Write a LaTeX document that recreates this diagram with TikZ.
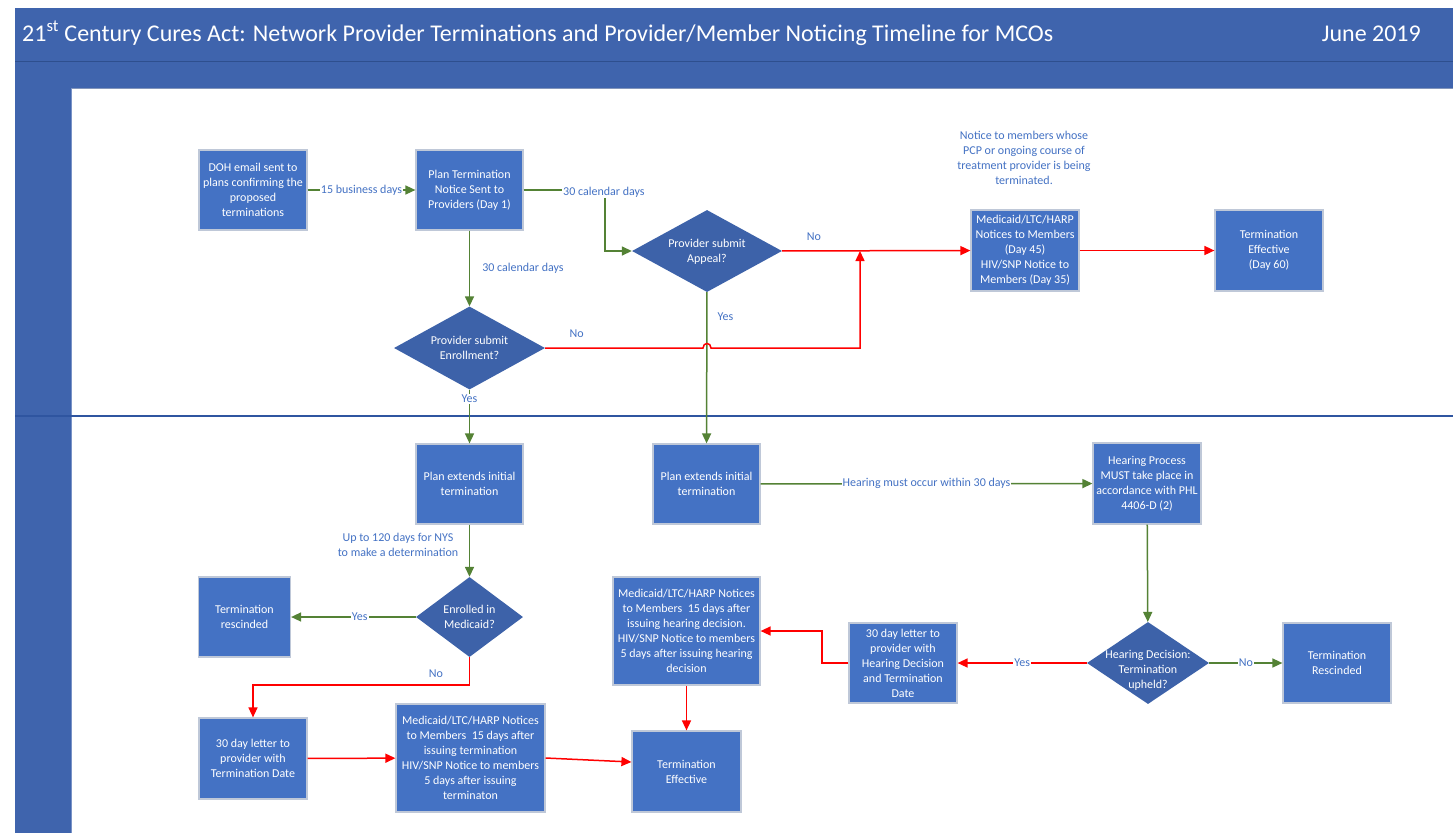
\documentclass[tikz,border=0pt]{standalone}
\usepackage{fontspec}
\setmainfont{Carlito}
\usetikzlibrary{shapes.geometric,arrows.meta,calc}
\definecolor{hdr}{HTML}{3F64AD}
\definecolor{hdrline}{HTML}{2E4F8E}
\definecolor{sepline}{HTML}{2F55A0}
\definecolor{boxblue}{HTML}{4472C4}
\definecolor{boxedge}{HTML}{BFC8D8}
\definecolor{dblue}{HTML}{3D62A9}
\definecolor{lbl}{HTML}{4472C4}
\definecolor{grn}{HTML}{548235}
\definecolor{rd}{HTML}{FF0000}
\newcommand\myNodeFont{\fontsize{12}{15}\selectfont}
\newcommand\myLabelFont{\fontsize{12}{15}\selectfont}
\newcommand\dtext[2][0pt]{\makebox[0pt]{\smash{\raisebox{\dimexpr-0.3em-#1\relax}{\begin{tabular}{@{}c@{}}#2\end{tabular}}}}}
\tikzset{
  box/.style={draw=boxedge, line width=1.2pt, fill=boxblue, text=white, align=center, font=\myNodeFont, inner sep=1pt},
  diam/.style={diamond, fill=dblue, inner sep=0pt, text=white, font=\myNodeFont},
  garrow/.style={draw=grn, line width=1.5pt, -{Triangle[length=10pt,width=9pt]}},
  rarrow/.style={draw=rd, line width=1.5pt, -{Triangle[length=10pt,width=9pt]}},
  lab/.style={text=lbl, font=\myLabelFont, inner sep=1pt},
  wlab/.style={lab, fill=white}
}
\begin{document}
\begin{tikzpicture}[x=1pt, y=-1pt]
\useasboundingbox (0,0) rectangle (1453,833);
\fill[white] (0,0) rectangle (1453,833);
% header bands
\fill[hdr] (15,8) rectangle (1453,88);
\draw[hdrline, line width=1pt] (15,61) -- (1453,61);
\draw[hdrline!60!white, line width=1pt] (71,88) -- (1453,88);
\fill[hdr] (15,88) rectangle (71,833);
\draw[hdr!70!white, line width=0.8pt] (71,88) -- (71,833);
\draw[sepline, line width=1.2pt] (15,416) -- (1453,416);
\node[anchor=base west, text=white, font=\fontsize{24}{28}\selectfont, inner sep=0pt] (title) at (22,41)
  {21\textsuperscript{st} Century Cures Act: Network Provider Terminations and Provider/Member Noticing Timeline for MCOs};
\node[anchor=base east, text=white, font=\fontsize{24}{28}\selectfont, inner sep=0pt] (date) at (1421,41) {June 2019};

% nodes
\node[box, minimum width=108, minimum height=80] (doh) at (253,190) {DOH email sent to\\plans confirming the\\proposed\\terminations};
\node[box, minimum width=107, minimum height=80] (ptn) at (469.5,190) {Plan Termination\\Notice Sent to\\Providers (Day 1)};
\node[diam, minimum width=150, minimum height=82] (app) at (707,251) {\dtext{Provider submit\\Appeal?}};
\node[lab, align=center] (note) at (1024,158) {Notice to members whose\\PCP or ongoing course of\\treatment provider is being\\terminated.};
\node[box, minimum width=108, minimum height=81] (mtop) at (1025,250.5) {Medicaid/LTC/HARP\\Notices to Members\\(Day 45)\\HIV/SNP Notice to\\Members (Day 35)};
\node[box, minimum width=108, minimum height=81] (te1) at (1269,250.5) {Termination\\Effective\\(Day 60)};
\node[diam, minimum width=151, minimum height=83] (enr) at (469.5,348) {\dtext{Provider submit\\Enrollment?}};
\node[box, minimum width=107, minimum height=80] (pel) at (469.5,484) {Plan extends initial\\termination};
\node[box, minimum width=107, minimum height=80] (per) at (706.5,484) {Plan extends initial\\termination};
\node[box, minimum width=108, minimum height=81] (hp) at (1147,483.5) {Hearing Process\\MUST take place in\\accordance with PHL\\4406-D (2)};
\node[diam, minimum width=107, minimum height=80] (emd) at (469.5,617) {\dtext{Enrolled in\\Medicaid?}};
\node[box, minimum width=92, minimum height=80] (tr1) at (244.5,617) {Termination\\rescinded};
\node[box, minimum width=147, minimum height=108] (mh) at (686.5,631) {Medicaid/LTC/HARP Notices\\to Members\ \ 15 days after\\issuing hearing decision.\\HIV/SNP Notice to members\\5 days after issuing hearing\\decision};
\node[box, minimum width=108, minimum height=80] (l30h) at (903,663) {30 day letter to\\provider with\\Hearing Decision\\and Termination\\Date};
\node[diam, minimum width=122, minimum height=82] (hd) at (1148,663) {\dtext[7pt]{Hearing Decision:\\Termination\\upheld?}};
\node[box, minimum width=108, minimum height=80] (tr2) at (1337,663) {Termination\\Rescinded};
\node[box, minimum width=108, minimum height=81] (l30) at (253,758.5) {30 day letter to\\provider with\\Termination Date};
\node[box, minimum width=149, minimum height=108] (mb) at (470.5,758) {Medicaid/LTC/HARP Notices\\to Members\ \ 15 days after\\issuing termination\\HIV/SNP Notice to members\\5 days after issuing\\terminaton};
\node[box, minimum width=109, minimum height=81] (te2) at (686.5,771.5) {Termination\\Effective};

% green connectors
\draw[garrow] (doh) -- node[wlab]{15 business days} (ptn);
\draw[garrow] (ptn.east) -- (605,190) -- (605,251) -- (app.west);
\node[wlab, anchor=west] (l30a) at (562,192) {30 calendar days};
\draw[garrow] (ptn) -- node[lab, midway, anchor=west, xshift=11pt]{30 calendar days} (enr);
\draw[garrow] (app) -- node[lab, pos=0.16, anchor=west, xshift=9pt]{Yes} (per);
\draw[garrow] (enr) -- node[wlab, pos=0.17]{Yes} (pel);
\draw[garrow] (pel) -- (emd);
\node[lab, align=center] (l120) at (398,545) {Up to 120 days for NYS\\to make a determination};
\draw[garrow] (emd) -- node[wlab, pos=0.45]{Yes} (tr1);
\draw[garrow] (per) -- node[wlab]{Hearing must occur within 30 days} (hp);
\draw[garrow] (hp) -- (hd);
\draw[garrow] (hd) -- node[wlab]{No} (tr2);

% red connectors
\draw[rarrow] (app) -- node[lab, pos=0.17, yshift=14pt]{No} (mtop);
\draw[rarrow] (enr.east) -- node[lab, pos=0.2, yshift=14pt]{No} (703,348) .. controls (703,342) and (711,342) .. (711,348) -- (860,348) -- (860,251);
\draw[rarrow] (mtop) -- (te1);
\draw[rarrow] (emd.south) -- (469.5,685) -| (l30.north);
\node[lab] (lno) at (436,674) {No};
\draw[rarrow] (l30) -- (mb);
\draw[rarrow] (mb.east) -- ([yshift=9.5pt]te2.west);
\draw[rarrow] (hd) -- node[wlab]{Yes} (l30h);
\draw[rarrow] (l30h.west) -- (822,663) |- (mh.east);
\draw[rarrow] (mh) -- (te2);
\end{tikzpicture}
\end{document}
